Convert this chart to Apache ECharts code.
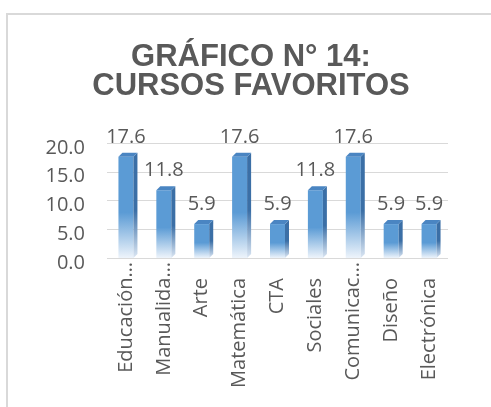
<!DOCTYPE html>
<html>
<head>
<meta charset="utf-8">
<script src="https://cdn.jsdelivr.net/npm/echarts@6/dist/echarts.min.js"></script>
<style>
  html, body { margin: 0; padding: 0; background: #fff; }
  #chart { width: 491px; height: 407px; }
</style>
</head>
<body>
<div id="chart"></div>
<script>
// datos del gráfico
const titulo = "GRÁFICO N° 14:\nCURSOS FAVORITOS";
const cursos = ["Educación…", "Manualida…", "Arte", "Matemática", "CTA", "Sociales", "Comunicac…", "Diseño", "Electrónica"];
const porcentajes = [17.6, 11.8, 5.9, 17.6, 5.9, 11.8, 17.6, 5.9, 5.9];
const ejeY = { min: 0, max: 20, paso: 5 };

const textColor = "#595959";
const chart = echarts.init(document.getElementById("chart"));

// barra 3D: cara frontal con degradado, lateral y superior
function renderBar(params, api) {
    const idx = api.value(0);
    const val = api.value(1);
    const top = api.coord([idx, val]);
    const base = api.coord([idx, 0]);
    const w = 15;
    const d = 4;
    const left = top[0] - w / 2;

    return {
        type: "group",
        children: [
            {
                type: "rect",
                shape: { x: left, y: top[1], width: w, height: base[1] - top[1] },
                style: {
                    fill: new echarts.graphic.LinearGradient(0, 0, 0, 1, [
                        { offset: 0, color: "#5b9bd5" },
                        { offset: 0.55, color: "#5b9bd5" },
                        { offset: 1, color: "#eef4fb" }
                    ])
                }
            },
            {
                type: "polygon",
                shape: {
                    points: [
                        [left + w, top[1]],
                        [left + w + d, top[1] - d],
                        [left + w + d, base[1] - d],
                        [left + w, base[1]]
                    ]
                },
                style: {
                    fill: new echarts.graphic.LinearGradient(0, 0, 0, 1, [
                        { offset: 0, color: "#3b6fa6" },
                        { offset: 0.55, color: "#3b6fa6" },
                        { offset: 1, color: "#dbe6f3" }
                    ])
                }
            },
            {
                type: "polygon",
                shape: {
                    points: [
                        [left, top[1]],
                        [left + d, top[1] - d],
                        [left + w + d, top[1] - d],
                        [left + w, top[1]]
                    ]
                },
                style: { fill: "#4a85c2" }
            },
            {
                type: "text",
                x: top[0],
                y: top[1] - 20,
                style: {
                    text: val.toFixed(1),
                    fill: textColor,
                    font: "20px 'Open Sans'",
                    align: "center",
                    verticalAlign: "middle"
                }
            }
        ]
    };
}

const option = {
    animation: false,
    backgroundColor: "#fff",
    title: {
        text: titulo,
        left: 251,
        top: 43,
        padding: 0,
        textAlign: "center",
        textStyle: {
            fontFamily: "Liberation Sans",
            fontWeight: "bold",
            fontSize: 31,
            lineHeight: 29,
            color: textColor
        }
    },
    graphic: [
        {
            type: "rect",
            shape: { x: 7, y: 14, width: 520, height: 420 },
            style: { fill: "none", stroke: "#d9d9d9", lineWidth: 2 },
            silent: true
        }
    ],
    grid: { left: 107, right: 43, top: 143, bottom: 149 },
    xAxis: {
        type: "category",
        data: cursos,
        axisLine: { show: false },
        axisTick: { show: false },
        axisLabel: {
            interval: 0,
            rotate: 90,
            margin: 4,
            color: textColor,
            fontFamily: "Open Sans",
            fontSize: 20,
            formatter: (name) => name.endsWith("…") ? name : name + "{s|}",
            rich: { s: { width: 16 } }
        }
    },
    yAxis: {
        type: "value",
        min: ejeY.min,
        max: ejeY.max,
        interval: ejeY.paso,
        axisLine: { show: false },
        axisTick: { show: false },
        splitLine: { lineStyle: { color: "#d9d9d9", width: 1 } },
        axisLabel: {
            margin: 22,
            verticalAlign: "top",
            lineHeight: 10,
            color: textColor,
            fontFamily: "Open Sans",
            fontSize: 20,
            formatter: (v) => v.toFixed(1)
        }
    },
    series: [
        {
            type: "custom",
            renderItem: renderBar,
            data: porcentajes.map((v, i) => [i, v]),
            encode: { x: 0, y: 1 }
        }
    ]
};

chart.setOption(option);
</script>
</body>
</html>
